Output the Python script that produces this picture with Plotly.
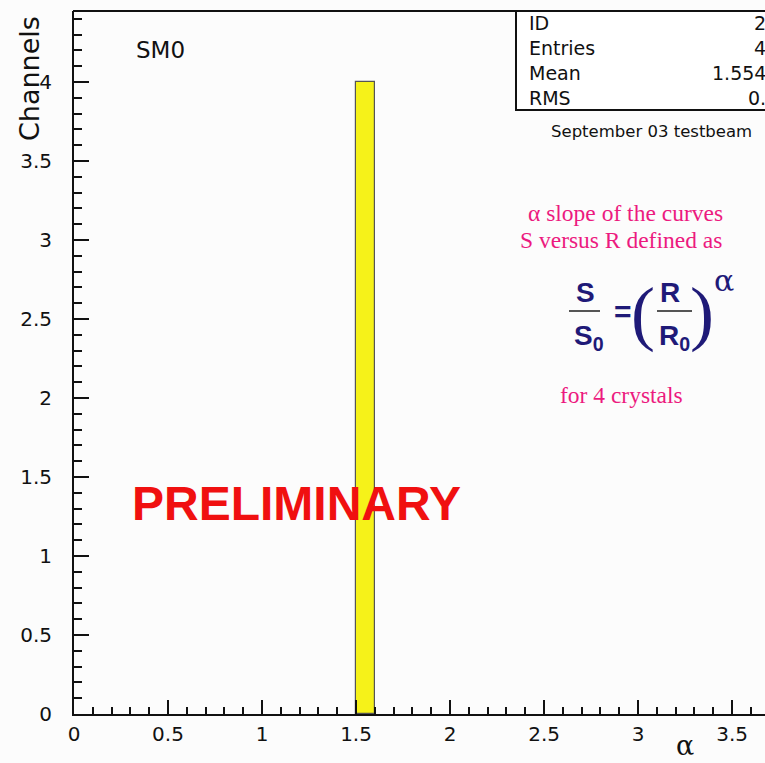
import plotly.graph_objects as go

# Histogram contents: one filled bin of width 0.1
bin_centers = [1.55]
bin_counts = [4]
bin_width = 0.1

# Statistics box rows
stat_names = ["ID", "Entries", "Mean", "RMS"]
stat_values = ["2", "4", "1.554", "0."]

x_ticks = [0, 0.5, 1, 1.5, 2, 2.5, 3, 3.5]
y_ticks = [0, 0.5, 1, 1.5, 2, 2.5, 3, 3.5, 4]

W, H = 765, 763
ML, MR, MT, MB = 74, 0, 11, 49
PW, PH = W - ML - MR, H - MT - MB

fig = go.Figure()
fig.add_trace(go.Bar(
    x=bin_centers, y=bin_counts, width=bin_width,
    marker=dict(color="#f6f219", line=dict(color="#555555", width=1.2)),
    showlegend=False,
))

tick_font = dict(family="DejaVu Sans", size=20, color="#111111")
xaxis = dict(
    range=[0, 3.675], tickmode="array", tickvals=x_ticks,
    ticktext=[f"{v:g}" for v in x_ticks],
    ticks="inside", ticklen=14, tickwidth=2, tickcolor="#111111",
    minor=dict(dtick=0.1, ticks="inside", ticklen=7, tickwidth=2, tickcolor="#111111"),
    showline=True, linecolor="#111111", linewidth=2,
    showgrid=False, zeroline=False, tickfont=tick_font, ticklabelstandoff=1,
)
yaxis = dict(
    range=[0, 4.449], tickmode="array", tickvals=y_ticks,
    ticktext=[f"{v:g}" for v in y_ticks],
    ticks="inside", ticklen=15, tickwidth=2, tickcolor="#111111",
    minor=dict(dtick=0.1, ticks="inside", ticklen=8, tickwidth=2, tickcolor="#111111"),
    showline=True, linecolor="#111111", linewidth=2,
    showgrid=False, zeroline=False, tickfont=tick_font, ticklabelstandoff=16,
)

def px(x):
    return (x - ML) / PW

def py(y):
    return (H - MB - y) / PH

shapes = []
# top frame line
shapes.append(dict(type="line", xref="paper", yref="paper",
                   x0=px(ML - 1), x1=px(W), y0=py(MT), y1=py(MT),
                   line=dict(color="#111111", width=2)))
# statistics box
shapes.append(dict(type="rect", xref="paper", yref="paper",
                   x0=px(516), x1=px(W + 5), y0=py(110), y1=py(11),
                   line=dict(color="#111111", width=2), fillcolor="white"))

ann = []
def txt(x, y, s, size, color="#111111", family="DejaVu Sans", xanchor="center", **kw):
    ann.append(dict(x=px(x), y=py(y), xref="paper", yref="paper", text=s,
                    showarrow=False, xanchor=xanchor, yanchor="middle",
                    font=dict(family=family, size=size, color=color), **kw))

# stats box rows
row_y = [23, 48, 73, 98]
for name, val, y in zip(stat_names, stat_values, row_y):
    txt(527, y, name, 19, xanchor="left")
    txt(768, y, val, 19, xanchor="right")

txt(651, 131, "September 03 testbeam", 16.5)
txt(160, 50, "SM0", 23)
txt(30, 79, "Channels", 27, textangle=-90)
txt(685, 745, "α", 27, family="DejaVu Serif")

pink = "#ec1a7f"
txt(625, 213, "α slope of the curves", 23.5, color=pink, family="Liberation Serif")
txt(621, 240, "S versus R defined as", 23.5, color=pink, family="Liberation Serif")
txt(621, 395, "for 4 crystals", 23.5, color=pink, family="Liberation Serif")

navy = "#1f1a78"
txt(585, 292, "<b>S</b>", 28, color=navy, family="Liberation Sans")
txt(589, 337, "<b>S<sub>0</sub></b>", 28, color=navy, family="Liberation Sans")
txt(623, 311, "<b>=</b>", 30, color=navy, family="Liberation Sans")
txt(643, 313, "(", 72, color=navy, family="DejaVu Sans ExtraLight")
txt(702, 313, ")", 72, color=navy, family="DejaVu Sans ExtraLight")
txt(670, 292, "<b>R</b>", 28, color=navy, family="Liberation Sans")
txt(674, 337, "<b>R<sub>0</sub></b>", 28, color=navy, family="Liberation Sans")
txt(724, 280, "α", 30, color=navy, family="DejaVu Serif")
shapes.append(dict(type="line", xref="paper", yref="paper",
                   x0=px(569), x1=px(600), y0=py(311), y1=py(311),
                   line=dict(color="#555555", width=2)))
shapes.append(dict(type="line", xref="paper", yref="paper",
                   x0=px(657), x1=px(692), y0=py(311), y1=py(311),
                   line=dict(color="#555555", width=2)))

txt(296, 503, "<b>PRELIMINARY</b>", 48, color="#f01010", family="Liberation Sans")

fig.update_layout(
    width=W, height=H,
    margin=dict(l=ML, r=MR, t=MT, b=MB),
    font=dict(family="DejaVu Sans", size=17, color="#111111"),
    paper_bgcolor="#fcfcfc", plot_bgcolor="#fcfcfc",
    bargap=0, shapes=shapes, annotations=ann,
    xaxis=xaxis, yaxis=yaxis,
)

fig.write_html("out.html")
